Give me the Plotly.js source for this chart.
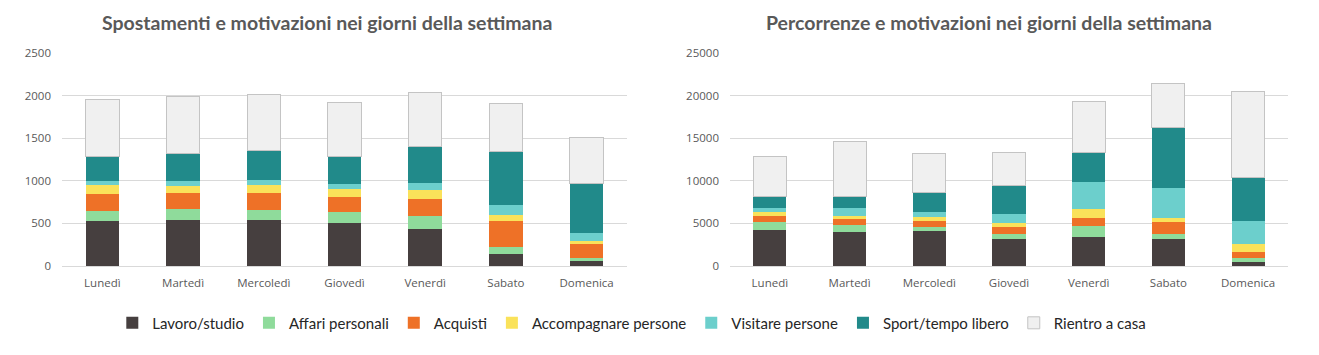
<!DOCTYPE html>
<html>
<head>
<meta charset="utf-8">
<script src="https://cdn.plot.ly/plotly-3.0.1.min.js"></script>
<style>html,body{margin:0;padding:0;background:#fff;}#chart{width:1319px;height:355px;}</style>
</head>
<body>
<div id="chart"></div>
<script>
const days = ['Lunedì','Martedì','Mercoledì','Giovedì','Venerdì','Sabato','Domenica'];
const seriesNames = ['Lavoro/studio','Affari personali','Acquisti','Accompagnare persone','Visitare persone','Sport/tempo libero','Rientro a casa'];
const colors = ['#463f3f','#8fdb9b','#ee7127','#fae25a','#6ccfcc','#218a8a','#f0f0f0'];

// Spostamenti (left)
const spLavoro      = [533,541,540,510,435,137,59];
const spAffari      = [117,130,119,129,153,87,31];
const spAcquisti    = [201,184,200,176,200,305,172];
const spAccompagnare= [98,90,94,95,106,71,36];
const spVisitare    = [51,59,63,55,82,122,94];
const spSport       = [286,322,337,325,428,623,576];
const spRientro     = [667,670,667,632,639,569,542];

// Percorrenze (right)
const peLavoro      = [4200,4040,4120,3220,3450,3220,430];
const peAffari      = [980,820,510,550,1220,590,550];
const peAcquisti    = [710,630,670,820,980,1410,630];
const peAccompagnare= [430,390,510,510,1060,430,980];
const peVisitare    = [550,900,550,1020,3180,3570,2710];
const peSport       = [1290,1370,2310,3290,3490,7020,5140];
const peRientro     = [4750,6510,4590,3920,5920,5260,10120];

const leftSeries  = [spLavoro,spAffari,spAcquisti,spAccompagnare,spVisitare,spSport,spRientro];
const rightSeries = [peLavoro,peAffari,peAcquisti,peAccompagnare,peVisitare,peSport,peRientro];

const traces = [];
seriesNames.forEach((name,i)=>{
  const line = i===6 ? {color:'#c4c4c4',width:1} : {width:0};
  traces.push({type:'bar',x:days,y:leftSeries[i],name:name,legendgroup:name,showlegend:true,
    marker:{color:colors[i],line:line},xaxis:'x',yaxis:'y',hoverinfo:'x+y+name'});
  traces.push({type:'bar',x:days,y:rightSeries[i],name:name,legendgroup:name,showlegend:false,
    marker:{color:colors[i],line:line},xaxis:'x2',yaxis:'y2',hoverinfo:'x+y+name'});
});

const tickFont = {family:'Open Sans, sans-serif',size:11.5,color:'#595959'};
const yBase = {domain:[0.2507,0.85],gridcolor:'#d9d9d9',gridwidth:1,zeroline:false,showline:false,
  tickfont:tickFont,automargin:false,ticklabelstandoff:10,fixedrange:true,tickformat:'d'};
const xBase = {tickfont:tickFont,showline:true,linecolor:'#d9d9d9',linewidth:1,ticks:'',
  automargin:false,ticklabelstandoff:6,fixedrange:true};

const layout = {
  width:1319,height:355,
  margin:{l:0,r:0,t:0,b:0},
  paper_bgcolor:'#ffffff',plot_bgcolor:'#ffffff',
  barmode:'stack',bargap:0.585,
  font:{family:'Lato, sans-serif',color:'#595959'},
  xaxis:Object.assign({},xBase,{domain:[62/1319,627/1319],anchor:'y'}),
  yaxis:Object.assign({},yBase,{range:[0,2500],dtick:500,anchor:'x'}),
  xaxis2:Object.assign({},xBase,{domain:[730/1319,1288/1319],anchor:'y2'}),
  yaxis2:Object.assign({},yBase,{range:[0,25000],dtick:5000,anchor:'x2'}),
  showlegend:true,
  legend:{orientation:'h',x:0.479,xanchor:'center',y:0.09,yanchor:'middle',traceorder:'normal',
    font:{family:'Lato, sans-serif',size:15,color:'#262626'},bgcolor:'rgba(0,0,0,0)',itemclick:false,itemdoubleclick:false},
  annotations:[
    {text:'<b>Spostamenti e motivazioni nei giorni della settimana</b>',xref:'paper',yref:'paper',
     x:327/1319,y:(355-22)/355,xanchor:'center',yanchor:'middle',showarrow:false,
     font:{family:'Lato, sans-serif',size:19.5,color:'#595959'}},
    {text:'<b>Percorrenze e motivazioni nei giorni della settimana</b>',xref:'paper',yref:'paper',
     x:989/1319,y:(355-22)/355,xanchor:'center',yanchor:'middle',showarrow:false,
     font:{family:'Lato, sans-serif',size:19.5,color:'#595959'}}
  ]
};

Plotly.newPlot('chart',traces,layout,{displayModeBar:false,staticPlot:false});
</script>
</body>
</html>
